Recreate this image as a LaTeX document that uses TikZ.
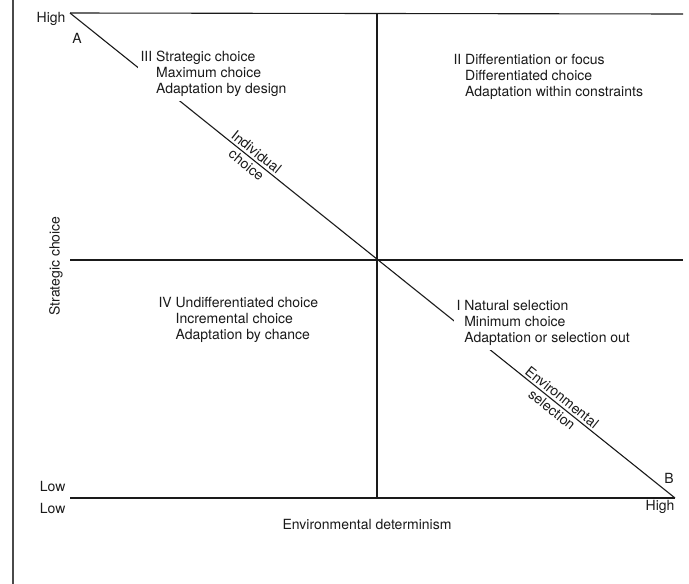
\documentclass[tikz,border=0pt]{standalone}
\usepackage{fontspec}
\setmainfont{TeX Gyre Heros}
\usetikzlibrary{positioning}
\definecolor{cink}{HTML}{1A1A1A}
\definecolor{cedge}{HTML}{4A4A4A}
\tikzset{
  every picture/.style={line width=1.1pt},
  lbl/.style={font=\fontsize{14}{16}\selectfont, text=cink, inner sep=0pt},
  quad/.style={lbl, anchor=base west, fill=white, inner sep=3pt},
  axis/.style={draw=cink, line width=1.1pt},
}
\newcommand{\quadtext}[4]{\begin{tabular}[t]{@{}r@{\ }l@{}}#1 & #2\\ & #3\\ & #4\end{tabular}}

\begin{document}
\begin{tikzpicture}[x=1pt, y=-1pt]
  \useasboundingbox (0,0) rectangle (689,584);
  % edge of the scanned page
  \draw[cedge, line width=2.6pt] (13,0) -- (13,584);
  % frame and quadrants
  \coordinate (tl) at (70,13);
  \coordinate (tr) at (683,14);
  \coordinate (ml) at (70,260);
  \coordinate (mr) at (683,260);
  \coordinate (bl) at (70,498);
  \coordinate (br) at (675,498);
  \coordinate (mt) at (377,13);
  \coordinate (mb) at (377,498);
  \draw[axis] (tl) -- (tr);
  \draw[axis] (ml) -- (mr);
  \draw[axis] (bl) -- (br);
  \draw[axis] (mt) -- (mb);
  \draw[axis] (tl) -- (br)
    node[lbl, sloped, pos=0.30, align=center] (indiv) {Individual\\choice}
    node[lbl, sloped, pos=0.805, align=center] (envsel) {Environmental\\selection};
  % axis ends
  \node[lbl, anchor=east] (yhigh) at (66,19) {High};
  \node[lbl] (ptA) at (77,38) {A};
  \node[lbl, anchor=east] (ylow) at (66,486) {Low};
  \node[lbl, anchor=east] (xlow) at (66,508) {Low};
  \node[lbl, anchor=east] (xhigh) at (675,507) {High};
  \node[lbl] (ptB) at (669,478) {B};
  \node[lbl] (xtitle) at (367,524) {Environmental determinism};
  \node[lbl, rotate=90] (ytitle) at (56,266) {Strategic choice};
  % quadrant texts, they cover the diagonal
  \foreach \n/\x/\y/\a/\b/\c in {III/137/61/Strategic choice/Maximum choice/Adaptation by design,
      II/450/64/Differentiation or focus/Differentiated choice/Adaptation within constraints,
      IV/155/307/Undifferentiated choice/Incremental choice/Adaptation by chance,
      I/453/310/Natural selection/Minimum choice/Adaptation or selection out}
    \node[quad] (q\n) at (\x,\y) {\quadtext{\n}{\a}{\b}{\c}};
\end{tikzpicture}
\end{document}
